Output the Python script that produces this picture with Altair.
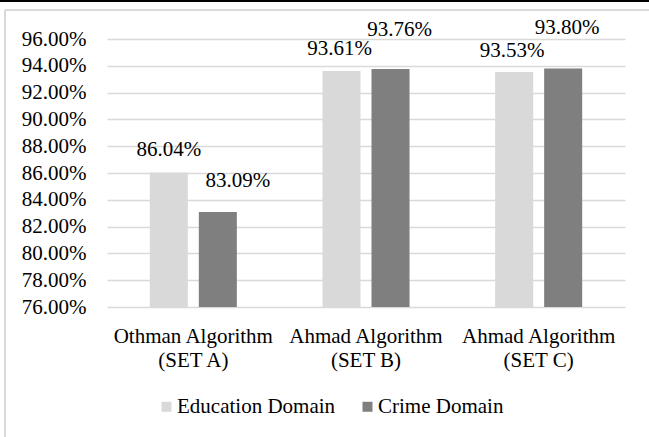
import altair as alt
import pandas as pd

# ---- data ----
categories = ["Othman Algorithm\n(SET A)", "Ahmad Algorithm\n(SET B)", "Ahmad Algorithm\n(SET C)"]
series = ["Education Domain", "Crime Domain"]
education = [0.8604, 0.9361, 0.9353]
crime = [0.8309, 0.9376, 0.9380]
y_ticks = [0.76, 0.78, 0.80, 0.82, 0.84, 0.86, 0.88, 0.90, 0.92, 0.94, 0.96]

# ---- styling ----
colors = ["#d9d9d9", "#7f7f7f"]
FONT = "Liberation Serif"
FS = 21
GRID = "#d9d9d9"
# per-label nudges (px), as placed in the original figure
label_dx = {"Education Domain": [0, -2, -2], "Crime Domain": [20, 9, 4]}
label_dy = {"Education Domain": [-16, -16, -15], "Crime Domain": [-25, -33, -34]}

rows = []
for i, c in enumerate(categories):
    rows.append({"algo": c, "domain": series[0], "value": education[i]})
    rows.append({"algo": c, "domain": series[1], "value": crime[i]})
df = pd.DataFrame(rows)

W, H = 518, 268
PAD_L, PAD_T = 107, 39

x_axis = alt.Axis(
    title=None, labelAngle=0, ticks=False, domain=False, grid=False,
    labelExpr="split(datum.label, '\\n')",
    labelFont=FONT, labelFontSize=FS, labelColor="#000000",
    labelLineHeight=24, labelPadding=18,
)
y_axis = alt.Axis(
    title=None, values=y_ticks, format=".2%", ticks=False, domain=False,
    gridColor=GRID, gridWidth=1.5, labelOverlap=False,
    labelFont=FONT, labelFontSize=FS, labelColor="#000000", labelPadding=21,
)
x_scale = alt.Scale(domain=categories, paddingInner=0.496, paddingOuter=0.248)
xoff_scale = alt.Scale(domain=series, paddingInner=0.224, paddingOuter=0)
y_scale = alt.Scale(domain=[0.76, 0.96], nice=False, zero=False)

bars = alt.Chart(df).mark_bar().encode(
    x=alt.X("algo:N", sort=categories, scale=x_scale, axis=x_axis),
    xOffset=alt.XOffset("domain:N", sort=series, scale=xoff_scale),
    y=alt.Y("value:Q", scale=y_scale, axis=y_axis),
    y2=alt.datum(0.76),
    color=alt.Color(
        "domain:N",
        sort=series,
        scale=alt.Scale(domain=series, range=colors),
        legend=alt.Legend(
            title=None, orient="none", direction="horizontal",
            legendX=49, legendY=357, padding=0,
            symbolType="square", symbolSize=100, symbolStrokeWidth=0,
            labelFont=FONT, labelFontSize=FS, labelColor="#000000",
            labelOffset=0, columnPadding=21,
        ),
    ),
)

layers = [bars]
for s in series:
    for i, c in enumerate(categories):
        t = alt.Chart(df).transform_filter(
            (alt.datum.algo == c) & (alt.datum.domain == s)
        ).mark_text(
            font=FONT, fontSize=FS, color="#000000", align="center",
            baseline="alphabetic", dx=label_dx[s][i], dy=label_dy[s][i],
        ).encode(
            x=alt.X("algo:N", sort=categories, scale=x_scale, axis=x_axis),
            xOffset=alt.XOffset("domain:N", sort=series, scale=xoff_scale),
            y=alt.Y("value:Q", scale=y_scale, axis=y_axis),
            text=alt.Text("value:Q", format=".2%"),
        )
        layers.append(t)

# frame decorations: top black rule and light chart-area border
frame_top_black = alt.Chart(df).mark_rule(color="#000000", strokeWidth=1.5).encode(
    x=alt.value(-PAD_L), x2=alt.value(649 - PAD_L), y=alt.value(-PAD_T + 0.75)
)
frame_top = alt.Chart(df).mark_rule(color=GRID, strokeWidth=1.2).encode(
    x=alt.value(-PAD_L + 5), x2=alt.value(649 - PAD_L), y=alt.value(-PAD_T + 10)
)
frame_left = alt.Chart(df).mark_rule(color=GRID, strokeWidth=1.2).encode(
    x=alt.value(-PAD_L + 5), y=alt.value(-PAD_T + 10), y2=alt.value(437 - PAD_T)
)
layers += [frame_top_black, frame_top, frame_left]

chart = alt.layer(*layers).properties(
    width=W, height=H,
    autosize=alt.AutoSizeParams(type="none"),
    padding={"left": PAD_L, "top": PAD_T, "right": 649 - PAD_L - W, "bottom": 437 - PAD_T - H},
    background="#ffffff",
).configure(font=FONT).configure_view(strokeWidth=0)

chart.save("out.html", embed_options={"renderer": "svg", "actions": False})
